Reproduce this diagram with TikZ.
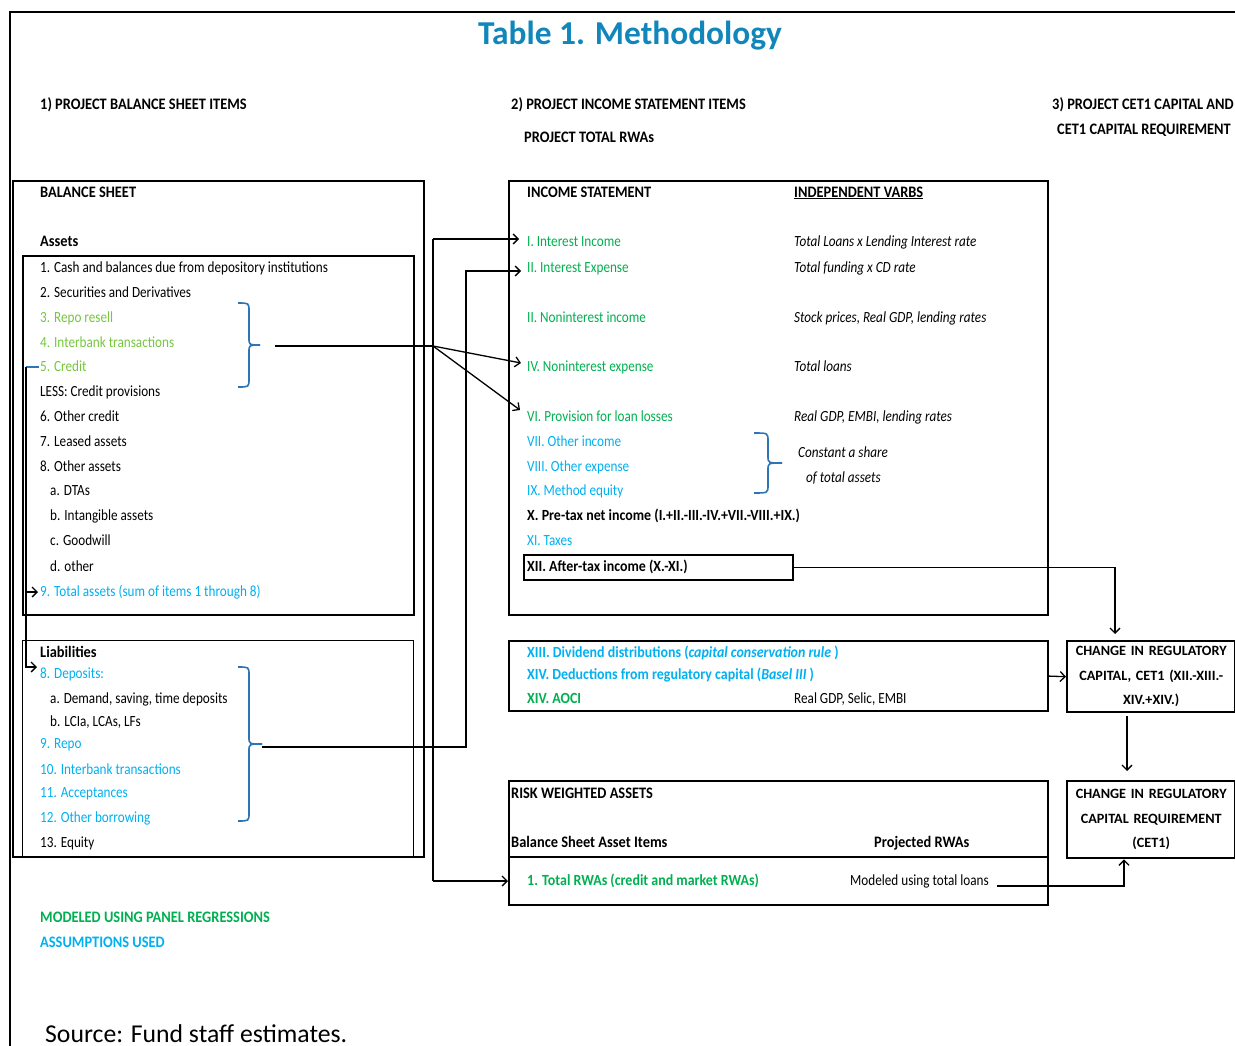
\documentclass[tikz,border=0pt]{standalone}
\usepackage{fontspec}
\setmainfont{Carlito}
\newfontfamily\cf[FakeStretch=0.85]{Carlito}
\newfontfamily\cfb[FakeStretch=0.9]{Carlito}
\usetikzlibrary{arrows.meta,calc}
\definecolor{lgreen}{RGB}{118,198,62}
\definecolor{igreen}{RGB}{0,176,80}
\definecolor{icyan}{RGB}{0,176,240}
\definecolor{brkblue}{RGB}{46,117,182}
\definecolor{ttl}{RGB}{17,134,186}
\tikzset{
  t/.style={anchor=base west, inner sep=0pt, font=\cf\fontsize{15.5}{18}\selectfont},
  tb/.style={t, font=\cfb\bfseries\fontsize{15.5}{18}\selectfont},
  ti/.style={t, font=\cf\itshape\fontsize{15.5}{18}\selectfont},
  hd/.style={t, font=\cfb\bfseries\fontsize{16}{18}\selectfont},
  boxn/.style={draw, anchor=north west, inner sep=0pt},
  rbox/.style={boxn, line width=2.4pt, align=center, text width=164pt,
    font=\bfseries\fontsize{14.2}{24.5}\selectfont},
  ln/.style={line width=1.3pt},
  arr/.style={line width=1.3pt, -{Straight Barb[length=5pt,width=10pt,line width=1.3pt]}},
  brk/.style={draw=brkblue, line width=1.6pt},
}
\begin{document}
\begin{tikzpicture}[x=1pt,y=-1pt]
\useasboundingbox (0,0) rectangle (1235,1046);
% outer frame
\draw[line width=2pt] (10,1046) -- (10,12) -- (1236,12);
% title
\node[anchor=base, inner sep=0pt, font=\bfseries\fontsize{33.4}{38}\selectfont, text=ttl] (title) at (630,45) {Table 1. Methodology};
% headers
\node[hd] (h1) at (40,110) {1) PROJECT BALANCE SHEET ITEMS};
\node[hd] (h2) at (511,110) {2) PROJECT INCOME STATEMENT ITEMS};
\node[hd] (h2b) at (524,143) {PROJECT TOTAL RWAs};
\node[hd] (h3) at (1052,110) {3) PROJECT CET1 CAPITAL AND};
\node[hd] (h3b) at (1057,135) {CET1 CAPITAL REQUIREMENT};

% boxes
\node[boxn, line width=1.8pt, minimum width=411pt, minimum height=676pt] (bs) at (12,180) {};
\node[boxn, line width=1.6pt, minimum width=391pt, minimum height=359pt] (assets) at (22,255) {};
\node[boxn, line width=1.2pt, minimum width=391pt, minimum height=216pt] (liab) at (22,640) {};
\node[boxn, line width=1.9pt, minimum width=539pt, minimum height=434pt] (is) at (508,180) {};
\node[boxn, line width=2pt, minimum width=269pt, minimum height=25pt] (xii) at (523,554) {};
\node[boxn, line width=2.2pt, minimum width=539pt, minimum height=70pt] (xiii) at (508,640) {};
\node[boxn, line width=2.2pt, minimum width=539pt, minimum height=124pt] (rwa) at (508,780) {};
\draw[line width=2.6pt] (rwa.west |- 0,857) -- (rwa.east |- 0,857);
\node[rbox, minimum width=168pt, minimum height=71pt] (cet) at (1066,640) {CHANGE IN REGULATORY\\CAPITAL, CET1 (XII.-XIII.-\\XIV.+XIV.)};
\node[rbox, minimum width=168pt, minimum height=77pt] (cr) at (1066,780) {CHANGE IN REGULATORY\\CAPITAL REQUIREMENT\\(CET1)};

% balance sheet texts
\node[hd] (bsh) at (40,197) {BALANCE SHEET};
\node[hd] (ash) at (40,246) {Assets};
\node[t] (a1) at (40,272) {1. Cash and balances due from depository institutions};
\node[t] (a2) at (40,297) {2. Securities and Derivatives};
\node[t, text=lgreen] (a3) at (40,322) {3. Repo resell};
\node[t, text=lgreen] (a4) at (40,347) {4. Interbank transactions};
\node[t, text=lgreen] (a5) at (40,371) {5. Credit};
\node[t] (a5b) at (40,396) {LESS: Credit provisions};
\node[t] (a6) at (40,421) {6. Other credit};
\node[t] (a7) at (40,446) {7. Leased assets};
\node[t] (a8) at (40,471) {8. Other assets};
\node[t] (a8a) at (50,495) {a. DTAs};
\node[t] (a8b) at (50,520) {b. Intangible assets};
\node[t] (a8c) at (50,545) {c. Goodwill};
\node[t] (a8d) at (50,571) {d. other};
\node[t, text=icyan] (a9) at (40,596) {9. Total assets (sum of items 1 through 8)};

\node[hd] (lh) at (40,657) {Liabilities};
\node[t, text=icyan] (l8) at (40,678) {8. Deposits:};
\node[t] (l8a) at (50,703) {a. Demand, saving, time deposits};
\node[t] (l8b) at (50,726) {b. LCIa, LCAs, LFs};
\node[t, text=icyan] (l9) at (40,748) {9. Repo};
\node[t, text=icyan] (l10) at (40,774) {10. Interbank transactions};
\node[t, text=icyan] (l11) at (40,797) {11. Acceptances};
\node[t, text=icyan] (l12) at (40,822) {12. Other borrowing};
\node[t] (l13) at (40,847) {13. Equity};

% income statement texts
\node[hd] (ish) at (527,197) {INCOME STATEMENT};
\node[hd] (ivh) at (794,197) {\underline{INDEPENDENT VARBS}};
\node[t, text=igreen] (i1) at (527,246) {I. Interest Income};
\node[ti] (v1) at (794,246) {Total Loans x Lending Interest rate};
\node[t, text=igreen] (i2) at (527,272) {II. Interest Expense};
\node[ti] (v2) at (794,272) {Total funding x CD rate};
\node[t, text=igreen] (i3) at (527,322) {II. Noninterest income};
\node[ti] (v3) at (794,322) {Stock prices, Real GDP, lending rates};
\node[t, text=igreen] (i4) at (527,371) {IV. Noninterest expense};
\node[ti] (v4) at (794,371) {Total loans};
\node[t, text=igreen] (i6) at (527,421) {VI. Provision for loan losses};
\node[ti] (v6) at (794,421) {Real GDP, EMBI, lending rates};
\node[t, text=icyan] (i7) at (527,446) {VII. Other income};
\node[t, text=icyan] (i8) at (527,471) {VIII. Other expense};
\node[t, text=icyan] (i9) at (527,495) {IX. Method equity};
\node[ti] (vc1) at (798,457) {Constant a share};
\node[ti] (vc2) at (806,482) {of total assets};
\node[tb] (i10) at (527,520) {X. Pre-tax net income (I.+II.-III.-IV.+VII.-VIII.+IX.)};
\node[t, text=icyan] (i11) at (527,545) {XI. Taxes};
\node[tb] (i12) at (527,571) {XII. After-tax income (X.-XI.)};

\node[tb, text=icyan] (i13) at (527,657) {XIII. Dividend distributions (\textit{capital conservation rule} )};
\node[tb, text=icyan] (i14) at (527,679) {XIV. Deductions from regulatory capital (\textit{Basel III} )};
\node[tb, text=igreen] (i14b) at (527,703) {XIV. AOCI};
\node[t] (v14) at (794,703) {Real GDP, Selic, EMBI};

\node[hd] (rh) at (511,798) {RISK WEIGHTED ASSETS};
\node[hd] (rh1) at (511,847) {Balance Sheet Asset Items};
\node[hd] (rh2) at (874,847) {Projected RWAs};
\node[tb, text=igreen] (r1) at (527,885) {1. Total RWAs (credit and market RWAs)};
\node[t] (mod) at (850,885) {Modeled using total loans};

% legend
\node[hd, text=igreen] (lg1) at (40,922) {MODELED USING PANEL REGRESSIONS};
\node[hd, text=icyan] (lg2) at (40,947) {ASSUMPTIONS USED};
\node[anchor=base west, inner sep=0pt, font=\fontsize{25.7}{28}\selectfont] (src) at (45,1042) {Source: Fund staff estimates.};

% brackets
\draw[brk] (238,303) .. controls (249,303) .. (249,311) -- (249,338) .. controls (249,345) .. (260,345);
\draw[brk] (238,387) .. controls (249,387) .. (249,379) -- (249,352) .. controls (249,345) .. (260,345);
\draw[brk] (238,667) .. controls (249,667) .. (249,675) -- (249,737) .. controls (249,744) .. (262,744);
\draw[brk] (238,821) .. controls (249,821) .. (249,813) -- (249,751) .. controls (249,744) .. (262,744);
\draw[brk] (754,433) .. controls (768,433) .. (768,441) -- (768,456) .. controls (768,463) .. (782,463);
\draw[brk] (754,493) .. controls (768,493) .. (768,485) -- (768,470) .. controls (768,463) .. (782,463);

% connectors
\coordinate (bA) at (275,346);
\coordinate (jA) at (433,346);
\coordinate (jTop) at (433,239);
\coordinate (jBot) at (433,881);
\coordinate (bL) at (262,747);
\coordinate (lv) at (466,0);
\draw[ln] (bA) -- (jA);
\draw[ln] (jTop) -- (jBot);
\draw[arr] (jTop) -- ($(jTop -| i1.west)+(-8,0)$);
\draw[arr] (jA) -- ($(i4.base west)+(-6,-8)$);
\draw[arr] (jA) -- ($(i6.base west)+(-7,-11)$);
\draw[arr] (jBot) -- (jBot -| rwa.west);
\draw[arr] (bL) -- (bL -| lv) |- ($(i2.base west)+(-6,-1)$);
% credit loop
\coordinate (cL) at (26,367);
\draw[draw=brkblue, line width=1.6pt] (cL) -- ($(a5.base west)+(-1,-4)$);
\draw[arr] (cL) |- ($(l8.base west)+(-3,-11)$);
\draw[arr] ($(cL |- a9.base)+(0,-4)$) -- ($(a9.base west)+(-2,-4)$);
% right side
\draw[arr] (xii.east) -| ($(cet.north west)+(49,-6)$);
\draw[arr] (xiii.east) -- (cet.west);
\draw[arr] ($(cet.south west)+(61,3)$) -- ($(cr.north west)+(61,-9)$);
\draw[arr] ($(mod.base east)+(8,1)$) -| (cr.south west -| 1124,0);
\end{tikzpicture}
\end{document}
